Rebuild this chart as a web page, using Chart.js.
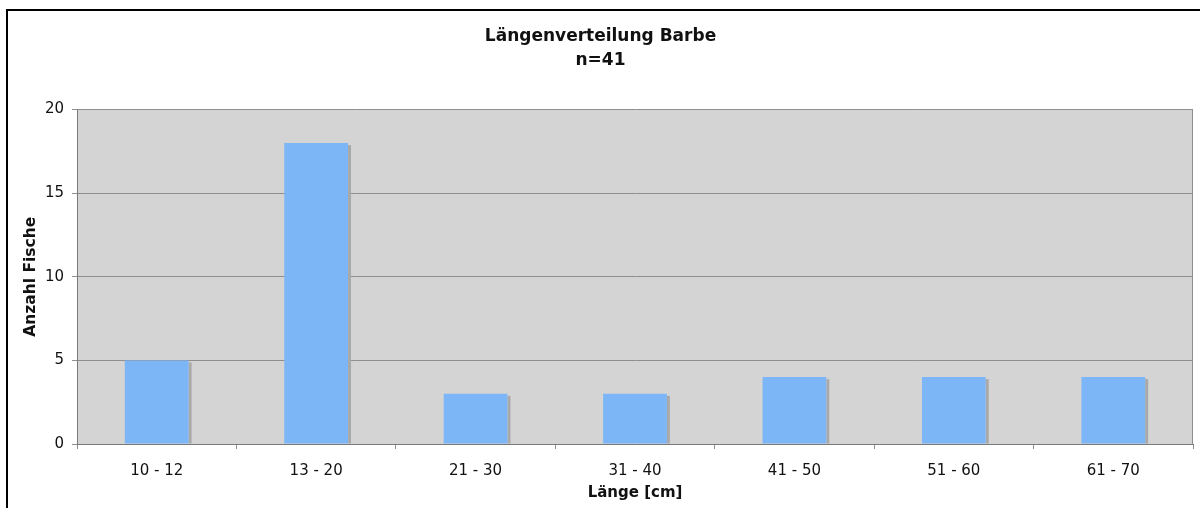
<!DOCTYPE html>
<html>
<head>
<meta charset="utf-8">
<script src="https://cdn.jsdelivr.net/npm/chart.js@4.4.1/dist/chart.umd.min.js"></script>
<style>
    html, body { margin: 0; padding: 0; background: #ffffff; }
    #wrap { width: 1200px; height: 508px; }
</style>
</head>
<body>
<div id="wrap"><canvas id="chartLaenge"></canvas></div>
<script>
// Daten
var categories = ['10 - 12', '13 - 20', '21 - 30', '31 - 40', '41 - 50', '51 - 60', '61 - 70'];
var anzahlFische = [5, 18, 3, 3, 4, 4, 4];
var titleLines = ['Längenverteilung Barbe', 'n=41'];
var xTitle = 'Länge [cm]';
var yTitle = 'Anzahl Fische';

var textcolor = '#111111';
var gridcolor = '#8f8f8f';
var fontFamily = '"DejaVu Sans", Verdana, sans-serif';

// grey plot area, frame lines and bar shadows
var decorPlugin = {
    id: 'decor',
    beforeDraw: function(chart) {
        var ctx = chart.ctx;
        var a = chart.chartArea;
        ctx.save();
        ctx.fillStyle = '#d4d4d4';
        ctx.fillRect(a.left, a.top, a.right - a.left, a.bottom - a.top);
        ctx.strokeStyle = gridcolor;
        ctx.lineWidth = 1;
        ctx.beginPath();
        ctx.moveTo(Math.round(a.right) - 0.5, a.top);
        ctx.lineTo(Math.round(a.right) - 0.5, a.bottom);
        ctx.stroke();
        // outer frame (top and left only)
        ctx.strokeStyle = '#000000';
        ctx.lineWidth = 2;
        ctx.beginPath();
        ctx.moveTo(7, 508);
        ctx.lineTo(7, 10);
        ctx.lineTo(1200, 10);
        ctx.stroke();
        ctx.restore();
    },
    beforeDatasetsDraw: function(chart) {
        var ctx = chart.ctx;
        var meta = chart.getDatasetMeta(0);
        ctx.save();
        ctx.fillStyle = '#a9a9a9';
        meta.data.forEach(function(bar) {
            ctx.fillRect(bar.x + bar.width / 2, bar.y + 2, 3, bar.base - bar.y - 2);
        });
        ctx.restore();
    }
};

const configPlot = {
    type: 'bar',
    data: {
        labels: categories,
        datasets: [{
            label: 'Anzahl',
            backgroundColor: 'rgb(124, 182, 246)',
            borderWidth: 0,
            data: anzahlFische,
            barPercentage: 0.4,
            categoryPercentage: 1.0
        }]
    },
    options: {
        responsive: true,
        maintainAspectRatio: false,
        animation: false,
        layout: {
            padding: { left: 8, right: 7, top: 0, bottom: 6 }
        },
        plugins: {
            legend: { display: false },
            tooltip: { enabled: false },
            title: {
                display: true,
                text: titleLines,
                color: textcolor,
                font: { family: fontFamily, size: 17, weight: 'bold', lineHeight: 1.4 },
                padding: { top: 25, bottom: 37 }
            }
        },
        scales: {
            x: {
                afterFit: function(scale) { scale.height = 58; },
                title: {
                    display: true,
                    text: xTitle,
                    color: textcolor,
                    font: { family: fontFamily, size: 15, weight: 'bold' },
                    padding: { top: 0, bottom: 0 }
                },
                ticks: {
                    color: textcolor,
                    font: { family: fontFamily, size: 15 },
                    padding: 13,
                    maxRotation: 0
                },
                grid: {
                    color: gridcolor,
                    drawOnChartArea: false,
                    drawTicks: true,
                    tickLength: 5,
                    offset: true
                },
                border: { color: '#7a7a7a', width: 1 }
            },
            y: {
                min: 0,
                max: 20,
                afterFit: function(scale) { scale.width = 69; },
                title: {
                    display: true,
                    text: yTitle,
                    color: textcolor,
                    font: { family: fontFamily, size: 15.5, weight: 'bold' },
                    padding: { top: 14, bottom: 14 }
                },
                ticks: {
                    stepSize: 5,
                    color: textcolor,
                    font: { family: fontFamily, size: 15 },
                    padding: 8
                },
                grid: {
                    color: gridcolor,
                    tickLength: 5
                },
                border: { color: '#7a7a7a', width: 1 }
            }
        }
    },
    plugins: [decorPlugin]
};

var chartLaenge = new Chart(
    document.getElementById('chartLaenge'),
    configPlot
);
</script>
</body>
</html>
